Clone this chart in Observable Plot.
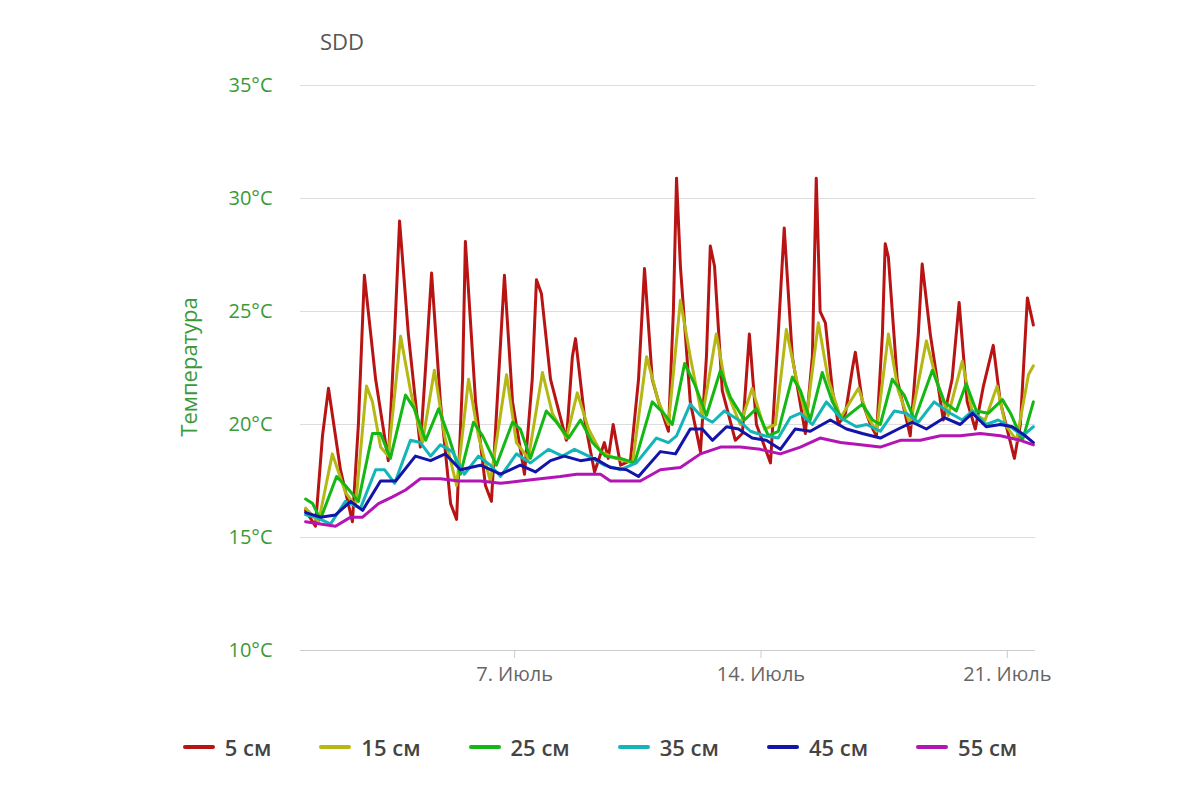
<!DOCTYPE html>
<html><head><meta charset="utf-8">
<script src="https://cdn.jsdelivr.net/npm/d3@7"></script>
<script src="https://cdn.jsdelivr.net/npm/@observablehq/plot@0.6"></script>
<style>
body{margin:0;background:#fff;font-family:"Open Sans",sans-serif;}
#wrap{position:relative;width:1200px;height:800px;}
#title{position:absolute;left:320px;top:26px;font-size:22px;color:#555;}
#ylab{position:absolute;left:188px;top:367px;transform:translate(-50%,-50%) rotate(-90deg);font-size:22px;color:#3a9a3a;white-space:nowrap;}
#legend{position:absolute;top:732px;left:0;width:1200px;display:flex;justify-content:center;gap:48px;font-size:22px;font-weight:600;color:#444;}
#legend span{display:flex;align-items:center;gap:10px;}
#legend i{display:inline-block;width:32px;height:4px;border-radius:2px;}
</style></head><body>
<div id="wrap"><div id="chart"></div><div id="title">SDD</div><div id="ylab">Температура</div><div id="legend"></div></div>
<script>
const seriesNames=["5 см","15 см","25 см","35 см","45 см","55 см"];
const colors=["#b81414","#b5b814","#14b814","#14b5b8","#1414a8","#b414b4"];
// [day of July (decimal), °C]
const s5=[[1.06,16.2],[1.34,15.5],[1.54,19.5],[1.71,21.6],[2.05,18],[2.39,15.7],[2.56,20],[2.73,26.6],[3.05,22],[3.41,18.4],[3.59,24],[3.73,29.0],[3.98,24],[4.32,19],[4.49,23],[4.64,26.7],[4.89,21],[5.18,16.5],[5.35,15.8],[5.52,22],[5.60,28.1],[5.89,21],[6.17,17.3],[6.34,16.6],[6.54,22],[6.71,26.6],[6.94,21],[7.28,17.8],[7.50,22],[7.62,26.4],[7.76,25.8],[8.02,22],[8.47,19.3],[8.64,23],[8.73,23.8],[9.01,20],[9.27,17.9],[9.55,19.2],[9.66,18.5],[9.80,20],[10.01,18.2],[10.29,18.4],[10.52,22],[10.69,26.9],[10.91,22],[11.09,21],[11.37,19.7],[11.51,25],[11.60,30.9],[11.71,27],[11.99,21],[12.28,18.8],[12.45,23],[12.56,27.9],[12.68,27],[12.90,21.5],[13.27,19.3],[13.47,19.6],[13.67,24],[13.87,20],[14.27,18.3],[14.49,24],[14.66,28.7],[14.89,23],[15.26,19.6],[15.46,23],[15.57,30.9],[15.68,25],[15.83,24.5],[16.03,21.5],[16.20,20],[16.40,20.5],[16.60,22.5],[16.68,23.2],[16.88,21],[17.11,20],[17.28,19.5],[17.45,24],[17.53,28],[17.62,27.4],[17.87,22],[18.24,19.5],[18.47,24],[18.58,27.1],[18.81,24],[19.18,20.2],[19.43,22],[19.63,25.4],[19.86,21],[20.09,19.8],[20.32,21.7],[20.60,23.5],[20.80,21],[21.20,18.5],[21.37,20],[21.57,25.6],[21.74,24.4]];
const s15=[[1.06,16.3],[1.43,15.7],[1.82,18.7],[2.19,17],[2.48,16.4],[2.79,21.7],[2.96,21],[3.19,19],[3.41,18.6],[3.76,23.9],[4.04,21.5],[4.38,19.2],[4.72,22.4],[5.01,19.5],[5.35,17.3],[5.69,22],[5.97,19.5],[6.31,17.5],[6.77,22.2],[7.05,19.2],[7.39,18.5],[7.79,22.3],[8.07,20.5],[8.47,19.4],[8.78,21.4],[9.10,19.8],[9.44,18.8],[9.86,18.5],[10.35,18.3],[10.75,23],[11.09,21],[11.37,20],[11.71,25.5],[11.99,23],[12.33,20.3],[12.73,24],[13.02,21.5],[13.41,20],[13.75,21.6],[14.10,19.8],[14.41,20],[14.72,24.2],[15.01,22],[15.29,20.3],[15.63,24.5],[15.91,22],[16.26,20.3],[16.77,21.6],[17.05,20.3],[17.28,19.7],[17.62,24],[17.90,21.5],[18.24,20],[18.70,23.7],[18.98,22],[19.32,20.4],[19.72,22.8],[20.01,20.5],[20.37,20.2],[20.71,21.7],[20.94,20],[21.26,19.3],[21.60,22.2],[21.74,22.6]];
const s25=[[1.06,16.7],[1.26,16.5],[1.48,15.8],[1.94,17.7],[2.19,17.3],[2.56,16.6],[2.96,19.6],[3.19,19.6],[3.47,18.5],[3.90,21.3],[4.15,20.7],[4.47,19.3],[4.84,20.7],[5.12,19.5],[5.46,17.8],[5.83,20.1],[6.09,19.5],[6.48,18.2],[6.94,20.1],[7.16,19.8],[7.45,18.5],[7.90,20.6],[8.19,20.1],[8.53,19.4],[8.87,20.2],[9.21,19.2],[9.58,18.6],[10.01,18.5],[10.41,18.3],[10.91,21],[11.23,20.5],[11.48,20],[11.83,22.7],[12.11,21.8],[12.45,20.4],[12.85,22.4],[13.13,21.2],[13.53,20.2],[13.87,20.7],[14.21,19.5],[14.49,19.7],[14.89,22.1],[15.12,21.5],[15.40,20.2],[15.74,22.3],[16.03,21],[16.31,20.2],[16.88,20.9],[17.17,20.2],[17.39,20],[17.73,22],[18.07,21.3],[18.36,20.2],[18.87,22.4],[19.21,21],[19.55,20.6],[19.83,21.8],[20.12,20.6],[20.46,20.5],[20.86,21.1],[21.09,20.5],[21.43,19.3],[21.74,21]];
const s35=[[1.06,16],[1.34,15.9],[1.77,15.6],[2.19,16.6],[2.62,16.3],[3.05,18],[3.30,18],[3.59,17.4],[4.04,19.3],[4.32,19.2],[4.61,18.6],[4.89,19.1],[5.23,18.8],[5.57,17.8],[5.97,18.6],[6.31,18.2],[6.60,17.7],[7.05,18.7],[7.45,18.3],[7.96,18.9],[8.36,18.6],[8.70,18.9],[9.10,18.6],[9.55,18.2],[10.01,18],[10.46,18.3],[11.03,19.4],[11.37,19.2],[11.60,19.5],[11.99,20.9],[12.28,20.4],[12.62,20.1],[12.96,20.6],[13.36,20.2],[13.70,19.7],[14.10,19.5],[14.49,19.4],[14.83,20.3],[15.12,20.5],[15.46,20],[15.86,21],[16.26,20.3],[16.71,19.9],[17.00,20],[17.39,19.7],[17.79,20.6],[18.13,20.5],[18.47,20.1],[18.92,21],[19.38,20.5],[19.72,20.2],[20.01,20.6],[20.40,20],[20.74,20.2],[21.09,19.9],[21.43,19.5],[21.74,19.9]];
const s45=[[1.06,16.1],[1.48,15.9],[1.91,16],[2.34,16.6],[2.68,16.2],[3.19,17.5],[3.62,17.5],[4.18,18.6],[4.61,18.4],[5.03,18.7],[5.46,18],[6.03,18.2],[6.60,17.8],[7.16,18.2],[7.59,17.9],[8.02,18.4],[8.41,18.6],[8.87,18.4],[9.27,18.5],[9.72,18.1],[10.18,18],[10.52,17.7],[11.14,18.8],[11.57,18.7],[11.99,19.8],[12.33,19.8],[12.62,19.3],[13.02,19.9],[13.36,19.8],[13.75,19.4],[14.15,19.3],[14.55,18.9],[14.97,19.8],[15.40,19.7],[15.97,20.2],[16.43,19.8],[16.88,19.6],[17.39,19.4],[17.90,19.8],[18.30,20.1],[18.70,19.8],[19.21,20.3],[19.66,20],[20.01,20.5],[20.40,19.9],[20.80,20],[21.14,19.9],[21.51,19.5],[21.74,19.2]];
const s55=[[1.06,15.7],[1.48,15.6],[1.91,15.5],[2.34,15.9],[2.68,15.9],[3.13,16.5],[3.53,16.8],[3.90,17.1],[4.32,17.6],[4.89,17.6],[5.40,17.5],[6.03,17.5],[6.60,17.4],[7.16,17.5],[7.73,17.6],[8.30,17.7],[8.76,17.8],[9.44,17.8],[9.72,17.5],[10.57,17.5],[11.14,18],[11.71,18.1],[12.28,18.7],[12.85,19.0],[13.41,19.0],[13.98,18.9],[14.55,18.7],[15.12,19.0],[15.68,19.4],[16.26,19.2],[16.83,19.1],[17.39,19.0],[17.96,19.3],[18.53,19.3],[19.10,19.5],[19.66,19.5],[20.23,19.6],[20.80,19.5],[21.37,19.3],[21.74,19.1]];
const yTicks=[10,15,20,25,30,35];
const xTickDays=[7,14,21];

const toDate=d=>new Date(Date.UTC(2023,6,1)+(d-1)*864e5);
const all=[s5,s15,s25,s35,s45,s55];
const data=all.flatMap((s,i)=>s.map(([d,t])=>({date:toDate(d),t,series:seriesNames[i]})));

const chart=Plot.plot({
  width:1200,height:710,marginTop:85,marginLeft:300,marginRight:165,marginBottom:60,
  style:{fontFamily:"Open Sans, sans-serif",background:"white"},
  x:{type:"utc",domain:[toDate(0.915),toDate(21.8)],label:null},
  y:{domain:[10,35],label:null},
  color:{domain:seriesNames,range:colors},
  marks:[
    Plot.gridY(yTicks,{stroke:"#ddd",strokeOpacity:1}),
    Plot.ruleY([10],{stroke:"#ccc"}),
    Plot.axisY({ticks:yTicks,tickFormat:d=>`${d}°C`,tickSize:0,tickPadding:28,fill:"#3a9a3a",fontSize:20,label:null}),
    Plot.axisX({ticks:xTickDays.map(toDate),tickFormat:d=>`${d.getUTCDate()}. Июль`,tickSize:8,stroke:"#ccc",fill:"#666",fontSize:20,label:null,tickPadding:8}),
    Plot.line(data,{x:"date",y:"t",z:"series",stroke:"series",strokeWidth:3,curve:"linear"})
  ]
});
document.getElementById("chart").appendChild(chart);
const lg=document.getElementById("legend");
seriesNames.forEach((n,i)=>{const s=document.createElement("span");s.innerHTML=`<i style="background:${colors[i]}"></i>${n}`;lg.appendChild(s);});
</script></body></html>
